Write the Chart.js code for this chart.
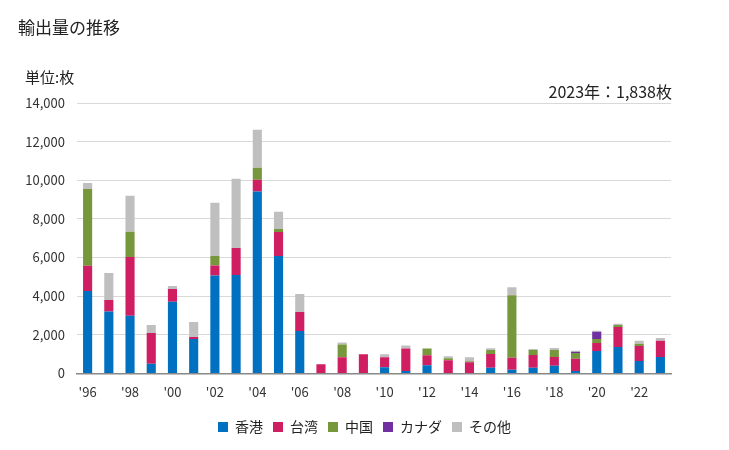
<!DOCTYPE html>
<html>
<head>
<meta charset="utf-8">
<script src="https://cdn.jsdelivr.net/npm/chart.js@4/dist/chart.umd.min.js"></script>
<style>
  body { margin: 0; background: #fff; font-family: "Noto Sans CJK JP", sans-serif; }
  #wrap { position: relative; width: 729px; height: 450px; }
  #title { position: absolute; left: 18px; top: 14px; font-size: 17px; color: #222; }
  #unit { position: absolute; left: 25px; top: 66px; font-size: 15px; color: #222; }
  #note { position: absolute; right: 57px; top: 79px; font-size: 16px; color: #222; }
  canvas { position: absolute; left: 0; top: 0; }
</style>
</head>
<body>
<div id="wrap">
  <canvas id="c" width="729" height="450"></canvas>
  <div id="title">輸出量の推移</div>
  <div id="unit">単位:枚</div>
  <div id="note">2023年：1,838枚</div>
</div>
<script>
    // --- DATA ---
    const years = ["'96","'97","'98","'99","'00","'01","'02","'03","'04","'05","'06","'07","'08","'09",
                   "'10","'11","'12","'13","'14","'15","'16","'17","'18","'19","'20","'21","'22","'23"];
    const hongkong = [4270,3200,2990,500,3715,1780,5063,5098,9418,6083,2195,0,0,0,323,119,425,0,0,290,190,293,397,121,1155,1362,638,845];
    const taiwan   = [1310,600,3040,1590,655,105,518,1400,604,1244,985,480,833,986,510,1173,510,680,578,710,620,655,448,638,414,1034,776,845];
    const china    = [3970,0,1300,0,0,0,502,0,622,155,0,0,663,0,0,0,357,102,51,210,3241,259,362,293,207,104,120,0];
    const canada   = [0,0,0,0,0,0,0,0,0,0,0,0,0,0,0,0,0,0,0,0,0,0,0,69,379,0,0,0];
    const others   = [310,1400,1870,415,155,777,2747,3577,1970,882,933,0,102,0,153,153,0,102,204,90,414,52,103,51,52,69,156,148];

    const font = { family: '"Noto Sans CJK JP", sans-serif', size: 13 };

    function ds(label, data, color) {
        return { label: label, data: data, backgroundColor: color, barPercentage: 0.43, categoryPercentage: 1 };
    }

    new Chart(document.getElementById('c'), {
        type: 'bar',
        data: {
            labels: years,
            datasets: [
                ds('香港', hongkong, '#0070c0'),
                ds('台湾', taiwan, '#d01e62'),
                ds('中国', china, '#77973d'),
                ds('カナダ', canada, '#7030a0'),
                ds('その他', others, '#bfbfbf')
            ]
        },
        options: {
            responsive: false,
            animation: false,
            layout: { padding: { left: 0, right: 0, top: 103, bottom: 6 } },
            scales: {
                x: {
                    stacked: true,
                    afterFit: function(s) { s.height += 7; },
                    grid: { display: false },
                    border: { color: '#888', width: 1.5 },
                    ticks: {
                        color: '#333', font: font, autoSkip: false, maxRotation: 0,
                        callback: function(v, i) { return i % 2 === 0 ? years[i] : ''; }
                    }
                },
                y: {
                    stacked: true,
                    min: 0, max: 14000,
                    afterFit: function(s) { s.width = 77; },
                    grid: { color: '#d9d9d9', drawTicks: false, lineWidth: 1 },
                    border: { display: false },
                    ticks: {
                        stepSize: 2000, padding: 12, color: '#333', font: font,
                        callback: function(v) { return v.toLocaleString('en-US'); }
                    }
                },
                // empty right axis, only keeps the right margin
                yr: {
                    position: 'right',
                    afterFit: function(s) { s.width = 58; },
                    grid: { display: false },
                    border: { display: false },
                    ticks: { display: false }
                }
            },
            plugins: {
                legend: {
                    position: 'bottom',
                    labels: { boxWidth: 10, boxHeight: 10, font: { family: font.family, size: 14 }, color: '#222', padding: 10 }
                },
                tooltip: { enabled: false }
            }
        }
    });
</script>
</body>
</html>
